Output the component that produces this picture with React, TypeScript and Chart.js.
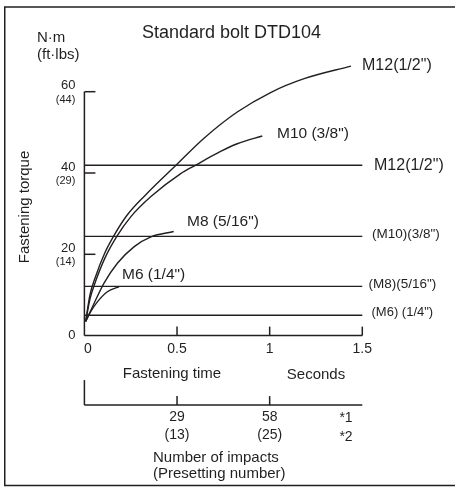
import React, { useEffect, useRef } from 'react';
import { Chart, registerables } from 'chart.js';

Chart.register(...registerables);

// ---- data ----
const m12Time = [0.007, 0.03, 0.06, 0.11, 0.157, 0.23, 0.33, 0.494, 0.644, 0.825, 1.005, 1.186, 1.439];
const m12Torque = [3.5, 10, 14.5, 20.3, 24.4, 29.6, 34.6, 41.9, 48.5, 55.0, 59.8, 63.2, 66.3];

const m10Time = [0.007, 0.03, 0.06, 0.11, 0.175, 0.25, 0.359, 0.518, 0.599, 0.735, 0.825, 0.96];
const m10Torque = [3.5, 9, 13.3, 19, 24.4, 29.2, 34.2, 39.8, 41.9, 45.3, 47.2, 49.1];

const m8Time = [0.007, 0.052, 0.106, 0.178, 0.269, 0.359, 0.482];
const m8Torque = [3.5, 7.9, 12.9, 17.8, 21.9, 24.3, 25.6];

const m6Time = [0.007, 0.034, 0.07, 0.124, 0.187];
const m6Torque = [3.5, 5.9, 8.3, 10.8, 12.0];

const limitNames = ['M12(1/2")', '(M10)(3/8")', '(M8)(5/16")', '(M6) (1/4")'];
const limitTorque = [41.9, 24.4, 12.1, 5.0];

const curveNames = ['M12(1/2")', 'M10 (3/8")', 'M8 (5/16")', 'M6 (1/4")'];

const xTicks = [0, 0.5, 1, 1.5];
const xTickLabels = ['0', '0.5', '1', '1.5'];

const yTicks = [0, 20, 40, 60];
const yTickNm = ['0', '20', '40', '60'];
const yTickFt = ['', '(14)', '(29)', '(44)'];

const impactTicks = [0.5, 1];
const impactLabels = ['29', '58'];
const presetLabels = ['(13)', '(25)'];

const X_MIN = 0;
const X_MAX = 1.5;
const Y_MIN = 0;
const Y_MAX = 60;

const FONT = '"Liberation Sans", Arial, Helvetica, sans-serif';
const INK = '#231f20';

function pts(xs: number[], ys: number[]) {
  return xs.map((x, i) => ({ x, y: ys[i] }));
}

const overlay = {
  id: 'overlay',
  afterDraw(chart: any) {
    const { ctx } = chart;
    const xs = chart.scales.x;
    const ys = chart.scales.y;
    const px = (v: number) => xs.getPixelForValue(v);
    const py = (v: number) => ys.getPixelForValue(v);
    const x0 = px(X_MIN);
    const x1 = px(X_MAX);
    const y0 = py(Y_MIN);
    const yTop = py(Y_MAX);

    ctx.save();
    ctx.strokeStyle = INK;
    ctx.fillStyle = INK;
    ctx.lineWidth = 1.5;
    const line = (a: number, b: number, c: number, d: number) => {
      ctx.beginPath();
      ctx.moveTo(a, b);
      ctx.lineTo(c, d);
      ctx.stroke();
    };

    // outer frame (open on the right)
    ctx.beginPath();
    ctx.moveTo(460, 7);
    ctx.lineTo(4.75, 7);
    ctx.lineTo(4.75, 485.5);
    ctx.lineTo(460, 485.5);
    ctx.stroke();

    // axes
    line(x0, yTop, x0, y0);
    line(x0, y0, x1, y0);
    yTicks.forEach((v) => {
      if (v === Y_MIN) return;
      line(x0, py(v), x0 + 11, py(v));
    });
    xTicks.forEach((v) => {
      if (v === X_MIN) return;
      line(px(v), y0, px(v), y0 - 9);
    });

    // secondary (impacts) axis
    const yb = y0 + 69.5;
    line(x0, yb - 25, x0, yb);
    line(x0, yb, x1, yb);
    impactTicks.forEach((v) => line(px(v), yb, px(v), yb - 9));

    const text = (s: string, x: number, y: number, size: number, align: CanvasTextAlign = 'left') => {
      ctx.font = `${size}px ${FONT}`;
      ctx.textAlign = align;
      ctx.textBaseline = 'middle';
      ctx.fillText(s, x, y);
    };

    // y tick labels
    yTicks.forEach((v, i) => {
      const yy = py(v);
      if (yTickFt[i]) {
        text(yTickNm[i], x0 - 9, yy - 6, 13, 'right');
        text(yTickFt[i], x0 - 9, yy + 8, 11, 'right');
      } else {
        text(yTickNm[i], x0 - 9, yy, 13, 'right');
      }
    });

    // x tick labels
    xTicks.forEach((v, i) => {
      text(xTickLabels[i], px(v) + (v === X_MIN ? 3.5 : 0), y0 + 13.5, 14, 'center');
    });

    // impacts labels
    impactTicks.forEach((v, i) => {
      text(impactLabels[i], px(v), yb + 12, 14, 'center');
      text(presetLabels[i], px(v), yb + 30, 14, 'center');
    });
    text('*1', 346, yb + 13, 14, 'center');
    text('*2', 346, yb + 32, 14, 'center');

    text('Fastening time', 172, y0 + 38.5, 15, 'center');
    text('Seconds', 316, y0 + 39.5, 15, 'center');
    text('Number of impacts', 153, 458, 15, 'left');
    text('(Presetting number)', 153, 474, 15, 'left');

    // title and units
    text('Standard bolt DTD104', 231.5, 33, 18, 'center');
    text('N·m', 37, 38, 15, 'left');
    text('(ft·lbs)', 37, 54.5, 15, 'left');

    // y title
    ctx.save();
    ctx.translate(25, 207);
    ctx.rotate(-Math.PI / 2);
    text('Fastening torque', 0, 0, 15, 'center');
    ctx.restore();

    // curve labels
    text(curveNames[0], 362, 66, 16, 'left');
    text(curveNames[1], 277, 134, 15.5, 'left');
    text(curveNames[2], 187, 222, 15.5, 'left');
    text(curveNames[3], 122, 274.5, 15.5, 'left');

    // limit line labels
    const labelX = [374, 372, 368.5, 371.5];
    const labelSize = [16, 13.5, 13.5, 13];
    const labelDy = [0.5, -2.5, -2.5, -3];
    limitTorque.forEach((v, i) => {
      text(limitNames[i], labelX[i], py(v) + labelDy[i], labelSize[i], 'left');
    });

    ctx.restore();
  },
};

export default function App() {
  const ref = useRef<HTMLCanvasElement>(null);

  useEffect(() => {
    document.body.style.margin = '0';
    const canvas = ref.current;
    if (!canvas) return;

    const curveStyle = {
      borderColor: INK,
      borderWidth: 1.4,
      pointRadius: 0,
      fill: false,
      cubicInterpolationMode: 'monotone' as const,
      clip: false as const,
    };
    const limitStyle = {
      borderColor: INK,
      borderWidth: 1.4,
      pointRadius: 0,
      fill: false,
      tension: 0,
      clip: false as const,
    };

    const chart = new Chart(canvas, {
      type: 'line',
      data: {
        datasets: [
          { label: curveNames[0], data: pts(m12Time, m12Torque), ...curveStyle },
          { label: curveNames[1], data: pts(m10Time, m10Torque), ...curveStyle },
          { label: curveNames[2], data: pts(m8Time, m8Torque), ...curveStyle },
          { label: curveNames[3], data: pts(m6Time, m6Torque), ...curveStyle },
          ...limitTorque.map((v, i) => ({
            label: limitNames[i],
            data: [
              { x: X_MIN, y: v },
              { x: X_MAX, y: v },
            ],
            ...limitStyle,
          })),
        ],
      },
      options: {
        animation: false,
        responsive: false,
        devicePixelRatio: window.devicePixelRatio || 1,
        events: [],
        layout: {
          padding: { left: 84.4, right: 92.7, top: 91.7, bottom: 153.4 },
        },
        scales: {
          x: { type: 'linear', min: X_MIN, max: X_MAX, display: false },
          y: { type: 'linear', min: Y_MIN, max: Y_MAX, display: false },
        },
        plugins: {
          legend: { display: false },
          tooltip: { enabled: false },
        },
      },
      plugins: [overlay],
    });

    return () => chart.destroy();
  }, []);

  return (
    <div style={{ width: 455, height: 489, background: '#fff' }}>
      <canvas ref={ref} width={455} height={489} style={{ display: 'block', width: 455, height: 489 }} />
    </div>
  );
}
